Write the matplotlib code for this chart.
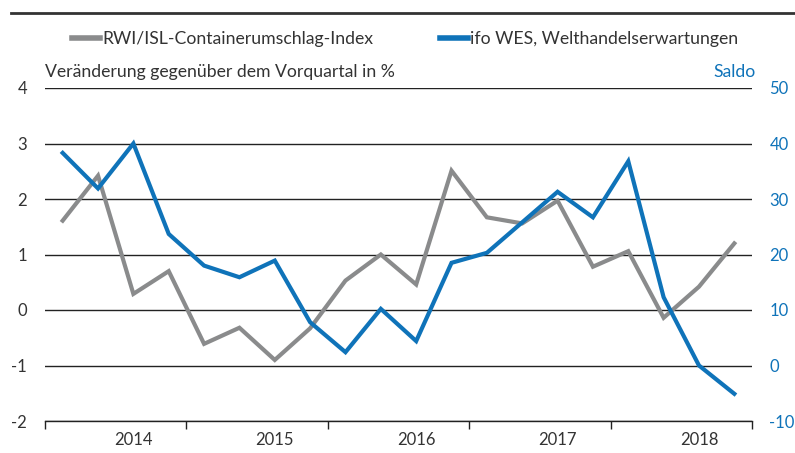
import matplotlib
matplotlib.use("Agg")
import matplotlib.pyplot as plt
from matplotlib.lines import Line2D
import numpy as np

plt.rcParams['font.family'] = ['Lato', 'DejaVu Sans']

quarters = ['2014Q1', '2014Q2', '2014Q3', '2014Q4',
            '2015Q1', '2015Q2', '2015Q3', '2015Q4',
            '2016Q1', '2016Q2', '2016Q3', '2016Q4',
            '2017Q1', '2017Q2', '2017Q3', '2017Q4',
            '2018Q1', '2018Q2', '2018Q3', '2018Q4']
rwi_isl = [1.61, 2.42, 0.29, 0.70, -0.61, -0.32, -0.90, -0.33,
           0.53, 1.00, 0.46, 2.51, 1.67, 1.56, 1.97, 0.78,
           1.06, -0.14, 0.42, 1.20]
ifo_wes = [38.3, 31.9, 40.0, 23.7, 18.0, 15.9, 18.9, 7.8,
           2.4, 10.2, 4.4, 18.5, 20.3, 25.8, 31.3, 26.7,
           36.8, 12.3, 0.0, -5.1]
years = ['2014', '2015', '2016', '2017', '2018']
left_ticks = [-2, -1, 0, 1, 2, 3, 4]
right_ticks = [-10, 0, 10, 20, 30, 40, 50]

label_gray = 'RWI/ISL-Containerumschlag-Index'
label_blue = 'ifo WES, Welthandelserwartungen'
left_title = 'Veränderung gegenüber dem Vorquartal in %'
right_title = 'Saldo'

GRAY = '#8a8b8c'
BLUE = '#0f73b9'
TXT = '#333333'
FS = 12.7
TFS = 12

fig = plt.figure(figsize=(7.95, 4.53), dpi=100)
ax = fig.add_axes([45/795, 1-421/453, (752-45)/795, (421-88)/453])
ax2 = ax.twinx()

x = np.array([int(q[:4]) - 2014 + (int(q[-1]) - 0.5) / 4 for q in quarters])

ax.set_ylim(-2, 4)
ax2.set_ylim(-10, 50)
ax.set_xlim(0, len(years))
ax.set_yticks(left_ticks)
ax2.set_yticks(right_ticks)
ax.set_yticklabels([str(v) for v in left_ticks])
ax2.set_yticklabels([str(v) for v in right_ticks])
ax.grid(axis='y', color='#222222', linewidth=1.0)
ax.set_axisbelow(True)

ax.plot(x, rwi_isl, color=GRAY, lw=3.0, solid_joinstyle='miter', zorder=3)
ax2.plot(x, ifo_wes, color=BLUE, lw=3.0, solid_joinstyle='miter', zorder=3)

for a in (ax, ax2):
    for s in ('top', 'left', 'right', 'bottom'):
        a.spines[s].set_visible(False)
ax.spines['bottom'].set_visible(True)
ax.spines['bottom'].set_color('#222222')
ax.spines['bottom'].set_linewidth(1.0)

ax.set_xticks(range(len(years) + 1))
ax.set_xticklabels([])
ax.set_xticks([i + 0.625 for i in range(len(years))], minor=True)
ax.set_xticklabels(years, minor=True)
ax.tick_params(axis='x', which='major', length=6, width=1, color='#222222', direction='out')
ax.tick_params(axis='x', which='minor', length=0, pad=8, labelsize=TFS, labelcolor=TXT)
ax.tick_params(axis='y', length=0, pad=13, labelsize=TFS, labelcolor=TXT)
ax2.tick_params(axis='y', length=0, pad=12.5, labelsize=TFS, labelcolor=BLUE)

ax.text(0, 1.025, left_title, transform=ax.transAxes, ha='left', va='bottom',
        fontsize=FS, color=TXT)
ax2.text(1.005, 1.025, right_title, transform=ax.transAxes, ha='right', va='bottom',
         fontsize=FS, color=BLUE)

handles = [Line2D([], [], color=GRAY, lw=4), Line2D([], [], color=BLUE, lw=4)]
fig.legend(handles, [label_gray, label_blue], loc='center', ncol=2,
           bbox_to_anchor=(405/795, 1-39/453), frameon=False, fontsize=FS,
           handlelength=1.6, handletextpad=0.1, columnspacing=3.8,
           labelcolor=TXT)

fig.add_artist(Line2D([11/795, 1], [1-13/453, 1-13/453], transform=fig.transFigure,
                      color='#333333', lw=2))

fig.savefig('out.png', dpi=100)
